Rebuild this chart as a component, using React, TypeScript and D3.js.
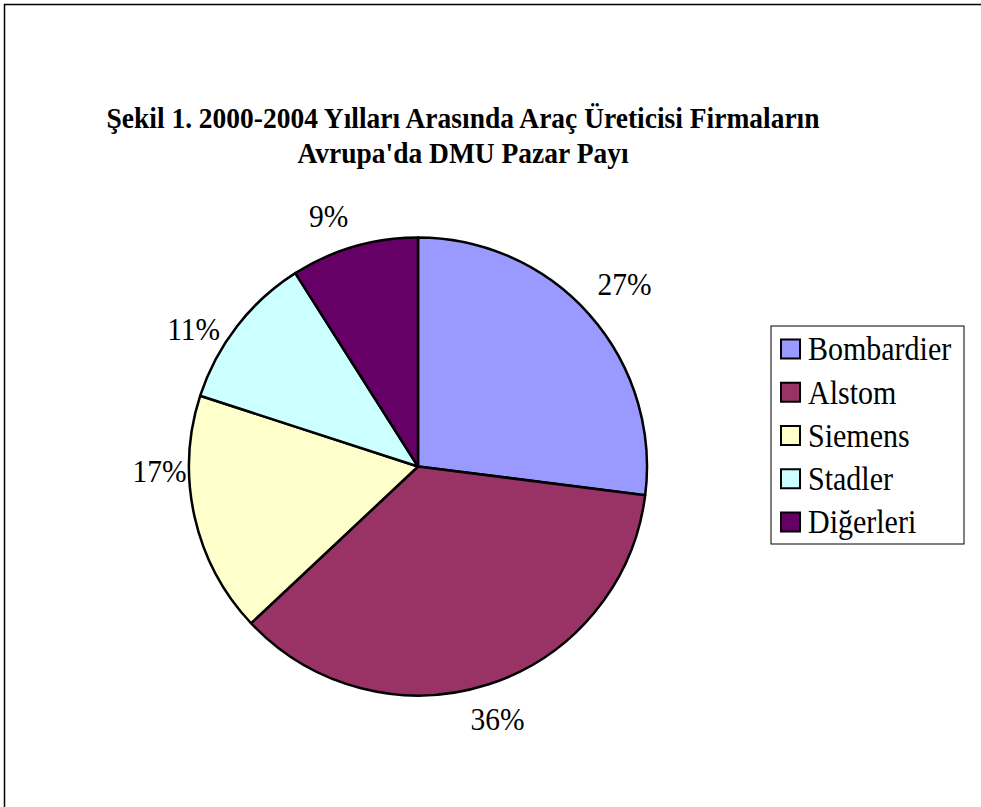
import { useEffect, useRef } from 'react';
import * as d3 from 'd3';

const firms = ['Bombardier', 'Alstom', 'Siemens', 'Stadler', 'Diğerleri'];
const shares = [27, 36, 17, 11, 9];
const sliceColors = ['#9999FF', '#993366', '#FFFFCC', '#CCFFFF', '#660066'];
const titleLines = [
  'Şekil 1. 2000-2004 Yılları Arasında Araç Üreticisi Firmaların',
  "Avrupa'da DMU Pazar Payı",
];

export default function App() {
  const svgRef = useRef<SVGSVGElement>(null);

  useEffect(() => {
    document.body.style.margin = '0';
    if (!svgRef.current) return;

    const svg = d3.select(svgRef.current);
    svg.selectAll('*').remove();

    const width = 981;
    const height = 807;
    const cx = 418;
    const cy = 466.5;
    const radius = 229;
    const font = '"Liberation Serif", "Times New Roman", serif';
    const stretch = 1.09; // text in the source is slightly tall

    svg.attr('width', width).attr('height', height);

    // outer frame (runs off the right/bottom of the picture)
    svg.append('rect')
      .attr('x', 4.5)
      .attr('y', 4.5)
      .attr('width', width + 20)
      .attr('height', height + 20)
      .attr('fill', '#fff')
      .attr('stroke', '#000')
      .attr('stroke-width', 1.5);

    // title
    titleLines.forEach((line, i) => {
      svg.append('text')
        .attr('transform', `translate(463,${128 + i * 35}) scale(1,${stretch})`)
        .attr('text-anchor', 'middle')
        .attr('font-family', font)
        .attr('font-weight', 'bold')
        .attr('font-size', '27.5px')
        .attr('fill', '#000')
        .text(line);
    });

    const pie = d3.pie<number>().sort(null).value((d) => d);
    const arcs = pie(shares);
    const arc = d3.arc<d3.PieArcDatum<number>>().innerRadius(0).outerRadius(radius);
    const labelArc = d3.arc<d3.PieArcDatum<number>>().innerRadius(270).outerRadius(270);

    const g = svg.append('g').attr('transform', `translate(${cx},${cy})`);

    g.selectAll('path.slice')
      .data(arcs)
      .enter()
      .append('path')
      .attr('class', 'slice')
      .attr('d', arc)
      .attr('fill', (_, i) => sliceColors[i])
      .attr('stroke', '#000')
      .attr('stroke-width', 2.5)
      .attr('stroke-linejoin', 'round');

    // Excel-style label placement tweaks
    const labelNudge = [
      [4, -3],
      [-4, -4],
      [5, -54],
      [-11, 29],
      [-14, 9],
    ];

    g.selectAll('text.pct')
      .data(arcs)
      .enter()
      .append('text')
      .attr('class', 'pct')
      .attr('transform', (d, i) => {
        const [x, y] = labelArc.centroid(d);
        return `translate(${x + labelNudge[i][0]},${y + labelNudge[i][1]}) scale(1,${stretch})`;
      })
      .attr('text-anchor', 'middle')
      .attr('dominant-baseline', 'central')
      .attr('font-family', font)
      .attr('font-size', '29.5px')
      .attr('fill', '#000')
      .text((d) => `${d.data}%`);

    // legend
    const legend = svg.append('g').attr('transform', 'translate(771,326)');
    legend.append('rect')
      .attr('x', 0)
      .attr('y', 0)
      .attr('width', 193)
      .attr('height', 218)
      .attr('fill', '#fff')
      .attr('stroke', '#000')
      .attr('stroke-width', 1);

    const rowY = d3.scaleBand<string>().domain(firms).range([0, 218]).paddingOuter(0.02);

    const rows = legend.selectAll('g.row')
      .data(firms)
      .enter()
      .append('g')
      .attr('class', 'row')
      .attr('transform', (d) => `translate(0,${(rowY(d) ?? 0) + rowY.bandwidth() / 2})`);

    rows.append('rect')
      .attr('x', 10)
      .attr('y', -9)
      .attr('width', 19)
      .attr('height', 19)
      .attr('fill', (_, i) => sliceColors[i])
      .attr('stroke', '#000')
      .attr('stroke-width', 2);

    rows.append('text')
      .attr('transform', `translate(37,1) scale(1,${stretch})`)
      .attr('dominant-baseline', 'central')
      .attr('font-family', font)
      .attr('font-size', '30px')
      .attr('fill', '#000')
      .text((d) => d);
  }, []);

  return <svg ref={svgRef} style={{ display: 'block' }} />;
}
